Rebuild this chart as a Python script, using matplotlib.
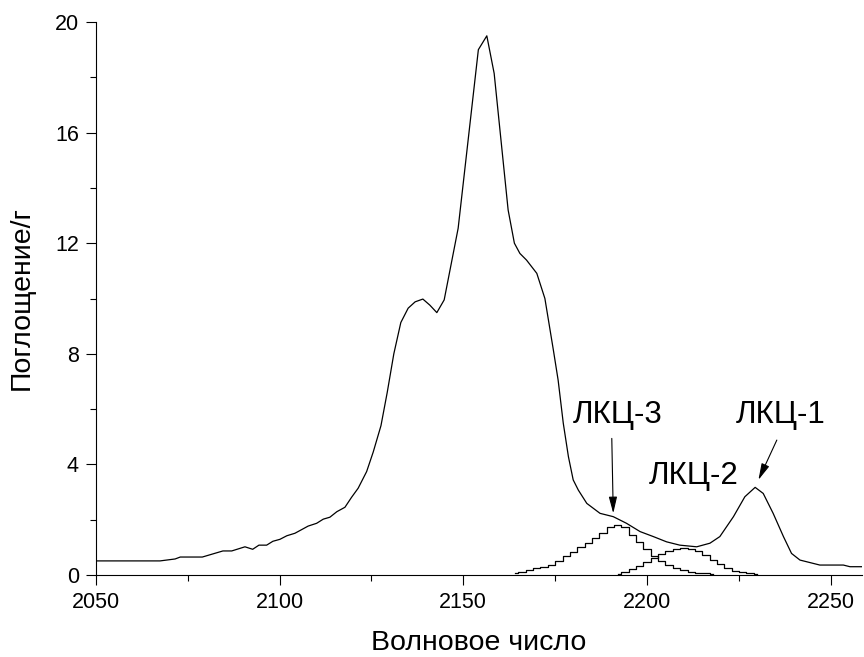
import matplotlib
matplotlib.use("Agg")
import matplotlib.pyplot as plt
from matplotlib.ticker import MultipleLocator

plt.rcParams['font.family'] = ['Liberation Sans', 'DejaVu Sans']

# main spectrum
wn = [2050, 2067.5, 2071.6, 2073, 2079, 2084.6, 2087, 2090.6, 2092.7, 2094.4,
      2096.5, 2098.2, 2100.1, 2102, 2104.2, 2107.8, 2110.1, 2111.9, 2113.7, 2115.6,
      2117.8, 2119.6, 2121.4, 2123.7, 2125.5, 2127.6, 2129.3, 2131.1, 2133.0, 2135.0,
      2136.9, 2139.0, 2140.9, 2142.8, 2144.8, 2148.6, 2154.1, 2156.4, 2158.4, 2160.2,
      2162.2, 2163.9, 2165.4, 2167.2, 2170.0, 2172.2, 2174.5, 2175.8, 2177.2, 2178.6,
      2179.9, 2181.3, 2183.6, 2187.2, 2190.8, 2194.4, 2198.1, 2201.7, 2205.3, 2208.9,
      2213.5, 2217.1, 2219.8, 2223.5, 2226.6, 2229.4, 2231.6, 2234.3, 2237.1, 2239.3,
      2241.6, 2245.2, 2247.0, 2253.4, 2255.2, 2259.0]
absorb = [0.51, 0.51, 0.58, 0.65, 0.65, 0.87, 0.87, 1.02, 0.93, 1.08,
          1.08, 1.22, 1.29, 1.42, 1.51, 1.77, 1.87, 2.02, 2.09, 2.29,
          2.45, 2.81, 3.14, 3.74, 4.45, 5.40, 6.60, 8.0, 9.13, 9.65,
          9.88, 9.98, 9.76, 9.49, 9.95, 12.54, 19.0, 19.5, 18.14, 15.8,
          13.2, 12.0, 11.63, 11.39, 10.91, 10.0, 8.14, 7.05, 5.49, 4.28,
          3.44, 3.07, 2.59, 2.23, 2.11, 1.87, 1.57, 1.39, 1.20, 1.08,
          1.02, 1.15, 1.39, 2.11, 2.83, 3.17, 2.95, 2.23, 1.39, 0.78,
          0.54, 0.42, 0.36, 0.36, 0.30, 0.30]

# ЛКЦ-3 component
wn3 = [2164, 2166, 2168, 2170, 2172, 2174, 2176, 2178, 2180, 2182, 2184, 2186,
       2188, 2190, 2192, 2194, 2196, 2198, 2200, 2202, 2204, 2206, 2208, 2210,
       2212, 2214, 2216, 2218]
lkc3 = [0.06, 0.12, 0.18, 0.24, 0.30, 0.36, 0.52, 0.68, 0.84, 1.00, 1.16, 1.34,
        1.52, 1.72, 1.80, 1.72, 1.45, 1.18, 0.94, 0.68, 0.50, 0.36, 0.26, 0.18,
        0.12, 0.08, 0.06, 0.05]

# ЛКЦ-2 component
wn2 = [2192, 2194, 2196, 2198, 2200, 2202, 2204, 2206, 2208, 2210, 2212, 2214,
       2216, 2218, 2220, 2222, 2224, 2226, 2228, 2230]
lkc2 = [0.04, 0.10, 0.22, 0.34, 0.48, 0.62, 0.76, 0.88, 0.94, 0.96, 0.94, 0.86,
        0.72, 0.56, 0.40, 0.26, 0.16, 0.10, 0.07, 0.05]

fig = plt.figure(figsize=(8.64, 6.57), dpi=100)
ax = fig.add_axes([0.1108, 0.1248, 0.887, 0.8417])

ax.plot(wn, absorb, color='black', lw=0.9)
ax.step(wn3, lkc3, where='mid', color='black', lw=0.9)
ax.step(wn2, lkc2, where='mid', color='black', lw=0.9)

# labels and arrows
arrow = dict(arrowstyle='-|>,head_length=1.0,head_width=0.25', color='black', lw=0.8,
             shrinkA=0, shrinkB=0)
ax.text(2192.0, 5.8, 'ЛКЦ-3', ha='center', va='center', fontsize=22.5)
ax.annotate('', xy=(2190.8, 2.23), xytext=(2190.4, 4.94), arrowprops=arrow)
ax.text(2236.4, 5.8, 'ЛКЦ-1', ha='center', va='center', fontsize=22.5)
ax.annotate('', xy=(2230.3, 3.44), xytext=(2235.3, 4.88), arrowprops=arrow)
ax.text(2212.8, 3.58, 'ЛКЦ-2', ha='center', va='center', fontsize=22.5)

ax.set_xlim(2050, 2258.5)
ax.set_ylim(0, 20)
ax.set_xticks([2050, 2100, 2150, 2200, 2250])
ax.set_yticks([0, 4, 8, 12, 16, 20])
ax.xaxis.set_minor_locator(MultipleLocator(25))
ax.yaxis.set_minor_locator(MultipleLocator(2))
ax.tick_params(which='major', direction='out', length=7.2, width=0.8, labelsize=15.5, pad=5)
ax.tick_params(which='minor', direction='out', length=4.3, width=0.8)
ax.spines['top'].set_visible(False)
ax.spines['right'].set_visible(False)
for s in ('left', 'bottom'):
    ax.spines[s].set_linewidth(0.8)

ax.set_xlabel('Волновое число', fontsize=20.5, labelpad=12.5)
ax.set_ylabel('Поглощение/г', fontsize=20.5, labelpad=14)

fig.savefig('out.png', dpi=100)
